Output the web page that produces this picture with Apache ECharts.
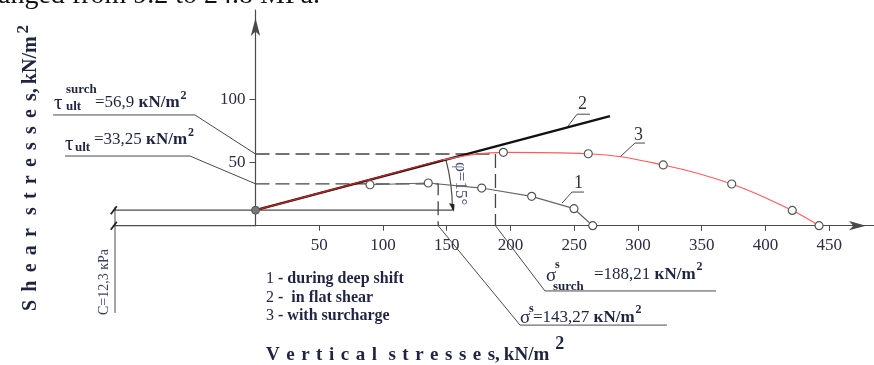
<!DOCTYPE html>
<html>
<head>
<meta charset="utf-8">
<script src="https://cdn.jsdelivr.net/npm/echarts@6/dist/echarts.min.js"></script>
<style>html,body{margin:0;background:#fff}#chart{width:874px;height:365px}</style>
</head>
<body>
<div id="chart"></div>
<script>
// values (x: vertical stress, y: shear stress, kN/m2)
const xTicks = [50, 100, 150, 200, 250, 300, 350, 400, 450]
const yTicks = [50, 100]
const cohesion = 12.3
const tauUlt = 33.25
const tauSurch = 56.9
const sigmaS = 143.27
const sigmaSurch = 188.21

// 2 - in flat shear
const flatShear = [[0, 12.3], [278, 87]]
// 1 - during deep shift
const deepShift = [[89.8, 32.5], [135.5, 33.9], [177.4, 29.9], [216.6, 23.3], [249.8, 13.5], [264.5, 0]]
// 3 - with surcharge (2nd point = where it leaves line 2, no marker)
const surcharge = [[0, 12.3], [147, 52.3], [194.4, 58.2], [261, 57.1], [319.8, 48.2], [373.5, 33.1], [421, 12.1], [442, 0]]

// annotation lines, in data units
const axisExt = [[-111.8, 0], [0, 0]]
const dashSurch = [[0, tauSurch], [sigmaSurch, tauSurch], [sigmaSurch, 0]]
const dashUlt = [[0, tauUlt], [sigmaS, tauUlt], [sigmaS, 0]]
const tauSurchLeader = [[-158.8, 87.9], [-47.5, 87.9], [0, tauSurch]]
const tauUltLeader = [[-149.4, 55.3], [-51.4, 55.3], [0, tauUlt]]
const sigmaLeader = [[sigmaS, 0], [207.5, -78.9], [322.7, -78.9]]
const sigmaSurchLeader = [[sigmaSurch, 0], [227, -51.8], [361.2, -51.8]]
const cLine = [[-111.8, cohesion], [154.5, cohesion]]
const cDim = [[-110.2, cohesion + 2.5], [-110.2, -69.2]]
const slashC = [[-113.5, cohesion - 3.2], [-108.8, cohesion + 3.2]]
const slashO = [[-113.5, -3.2], [-108.8, 3.2]]
const leader1 = [[240.4, 17.9], [248.2, 26.7], [257.6, 26.7]]
const leader2 = [[244.3, 78], [252.2, 88.5], [262.4, 88.5]]
const leader3 = [[285.9, 54.6], [297.6, 65.6], [305.5, 65.6]]
const phiRadius = 154.5

const serif = '"Liberation Serif", "DejaVu Serif", serif'
const ink = '#1f2440'
const gray = '#4a4a4a'

const notes = [
  { pts: axisExt, color: gray, width: 1.2 },
  { pts: tauSurchLeader, color: gray, width: 1 },
  { pts: tauUltLeader, color: gray, width: 1 },
  { pts: sigmaLeader, color: gray, width: 1 },
  { pts: sigmaSurchLeader, color: gray, width: 1 },
  { pts: cLine, color: gray, width: 1.2 },
  { pts: cDim, color: gray, width: 1 },
  { pts: slashC, color: '#222', width: 1.8 },
  { pts: slashO, color: '#222', width: 1.8 },
  { pts: leader1, color: gray, width: 1 },
  { pts: leader2, color: gray, width: 1 },
  { pts: leader3, color: gray, width: 1 }
]

function dashed(data) {
  return {
    type: 'line', data, symbol: 'none', silent: true, z: 1,
    lineStyle: { color: '#444', width: 1.3, type: [14, 6] }
  }
}

const ctx = document.createElement('canvas').getContext('2d')
function measure(t, size, bold) {
  ctx.font = (bold ? 'bold ' : '') + size + 'px ' + serif
  return ctx.measureText(t).width
}

// lay text fragments one after another from (x, y); rot rotates the run
function run(x, y, frags, rot = 0, color = ink) {
  const c = Math.cos(rot), s = Math.sin(rot)
  const out = []
  let p = 0
  for (const f of frags) {
    p += f.gap || 0
    const pieces = f.sp ? [...f.t] : [f.t]
    for (const ch of pieces) {
      const d = f.dy || 0
      out.push({
        type: 'text', x: x + p * c + d * s, y: y - p * s + d * c, rotation: rot,
        style: {
          text: ch, fill: f.color || color, fontFamily: serif, fontSize: f.size,
          fontWeight: f.bold ? 'bold' : 'normal', align: 'left', textAlign: 'left',
          verticalAlign: 'middle', textVerticalAlign: 'middle'
        }
      })
      p += measure(ch, f.size, f.bold) + (f.sp || 0)
    }
  }
  return out
}
const T = (t, size, o = {}) => Object.assign({ t, size }, o)

const hollow = { symbol: 'circle', symbolSize: 8 }
const chart = echarts.init(document.getElementById('chart'))
chart.setOption({
  animation: false,
  grid: { left: 255.5, right: 0, top: 10, bottom: 139.3 },
  xAxis: {
    type: 'value', min: 0, max: 485.1,
    axisLine: { lineStyle: { color: gray, width: 1.2 }, symbol: ['none', 'arrow'], symbolSize: [7, 17], symbolOffset: [0, -8] },
    axisTick: { customValues: xTicks, length: 5, lineStyle: { color: gray } },
    axisLabel: { customValues: xTicks, color: '#2b2d40', fontFamily: serif, fontSize: 17, margin: 11 },
    splitLine: { show: false }
  },
  yAxis: {
    type: 'value', min: 0, max: 171.2,
    axisLine: { lineStyle: { color: gray, width: 1.2 }, symbol: ['none', 'arrow'], symbolSize: [7, 18], symbolOffset: [0, -8] },
    axisTick: { customValues: yTicks, length: 6, lineStyle: { color: gray } },
    axisLabel: { customValues: yTicks, color: '#2b2d40', fontFamily: serif, fontSize: 17, margin: 10 },
    splitLine: { show: false }
  },
  series: [
    dashed(dashSurch),
    dashed(dashUlt),
    {
      // leader / dimension lines, drawn through the axes' scales
      type: 'custom', clip: false, silent: true, z: 1,
      data: notes.map(n => n.pts[0]),
      renderItem(params, api) {
        const n = notes[params.dataIndex]
        return {
          type: 'polyline',
          shape: { points: n.pts.map(p => api.coord(p)) },
          style: { stroke: n.color, lineWidth: n.width, fill: null }
        }
      }
    },
    {
      type: 'custom', clip: false, silent: true, z: 2, data: [[0, cohesion]],
      renderItem(params, api) {
        const o = api.coord([0, cohesion])
        const e = api.coord([phiRadius, cohesion])
        const a = api.coord(flatShear[1])
        const ang = Math.atan2(a[1] - o[1], a[0] - o[0])
        return {
          type: 'group', children: [
            { type: 'arc', shape: { cx: o[0], cy: o[1], r: e[0] - o[0], startAngle: ang, endAngle: 0, clockwise: true },
              style: { stroke: gray, lineWidth: 1.2, fill: null } },
            { type: 'polygon', shape: { points: [[e[0] - 3.5, e[1] - 7], [e[0] + 2, e[1] - 6], [e[0] + 1.5, e[1] + 1.5]] },
              style: { fill: '#222' } }
          ]
        }
      }
    },
    {
      name: '1', type: 'line', data: deepShift, z: 4, ...hollow,
      lineStyle: { color: '#666', width: 1.2 },
      itemStyle: { color: '#fff', borderColor: '#555', borderWidth: 1.2 }
    },
    {
      name: '2', type: 'line', data: flatShear, symbol: 'none', z: 3,
      lineStyle: { color: '#111', width: 2.4 }
    },
    {
      name: '3a', type: 'line', z: 5, symbol: 'circle', symbolSize: 8,
      lineStyle: { color: '#c02020', width: 1.4 },
      itemStyle: { color: '#777', borderColor: '#555', borderWidth: 1 },
      data: [{ value: surcharge[0] }, { value: surcharge[1], symbol: 'none' }]
    },
    {
      name: '3', type: 'line', z: 5, smooth: 0.4, ...hollow,
      lineStyle: { color: '#ff5a5a', width: 1.2 },
      itemStyle: { color: '#fff', borderColor: '#555', borderWidth: 1.2 },
      data: surcharge.slice(1).map((v, i) => (i === 0 ? { value: v, symbol: 'none' } : { value: v }))
    }
  ],
  graphic: [
    ...run(-2, -4, [T('anged from 9.2 to 24.8 MPa.', 28, { color: '#111' })]),
    // axis titles
    ...run(31, 311, [
      T('Shear', 20, { bold: true, sp: 8.2 }), T('stresses', 20, { bold: true, sp: 8.2, gap: 5 }),
      T(',', 20, { bold: true, gap: -8.2 }),
      T('kN/m', 20, { bold: true, gap: 4 }), T('2', 17, { bold: true, dy: -7, gap: 3 })
    ], Math.PI / 2),
    ...run(266, 355, [
      T('Vertical', 19, { bold: true, sp: 6.5 }), T('stresses', 19, { bold: true, sp: 6.5, gap: 5 }),
      T(',', 19, { bold: true, gap: -6.5 }),
      T('kN/m', 19, { bold: true, gap: 4 }), T('2', 18, { bold: true, dy: -11, gap: 6 })
    ]),
    // legend
    ...run(266, 279, [T('1', 16), T(' - during deep shift', 16, { bold: true })]),
    ...run(266, 298, [T('2', 16), T(' -  in flat shear', 16, { bold: true })]),
    ...run(266, 316, [T('3', 16), T(' - with surcharge', 16, { bold: true })]),
    // tau labels
    ...run(54, 103, [T('τ', 21)]),
    ...run(66, 90, [T('surch', 13, { bold: true })]),
    ...run(66, 107, [T('ult', 13, { bold: true })]),
    ...run(95, 103, [T('=56,9 ', 17), T('кN/m', 17, { bold: true }), T('2', 12, { bold: true, dy: -7, gap: 1 })]),
    ...run(65, 144, [T('τ', 21)]),
    ...run(75, 148, [T('ult', 13, { bold: true })]),
    ...run(94, 140, [T('=33,25 ', 17), T('кN/m', 17, { bold: true }), T('2', 12, { bold: true, dy: -7, gap: 1 })]),
    // sigma labels
    ...run(546, 276, [T('σ', 19)]),
    ...run(555, 265, [T('s', 12, { bold: true })]),
    ...run(553, 287, [T('surch', 13, { bold: true })]),
    ...run(594, 275, [T('=188,21 ', 17), T('кN/m', 17, { bold: true }), T('2', 12, { bold: true, dy: -8, gap: 1 })]),
    ...run(520, 318, [T('σ', 19)]),
    ...run(529, 309, [T('s', 12, { bold: true })]),
    ...run(533, 318, [T('=143,27 ', 17), T('кN/m', 17, { bold: true }), T('2', 12, { bold: true, dy: -8, gap: 1 })]),
    // cohesion & angle
    ...run(104, 315, [T('C=12,3 кPa', 14)], Math.PI / 2, '#3a4060'),
    ...run(460, 162, [T('φ=15°', 17)], -Math.PI / 2, '#4a5070'),
    // curve numbers
    ...run(578, 104, [T('2', 18, { color: '#333' })]),
    ...run(634, 135, [T('3', 18, { color: '#333' })]),
    ...run(574, 183, [T('1', 18, { color: '#333' })])
  ]
})
</script>
</body>
</html>
